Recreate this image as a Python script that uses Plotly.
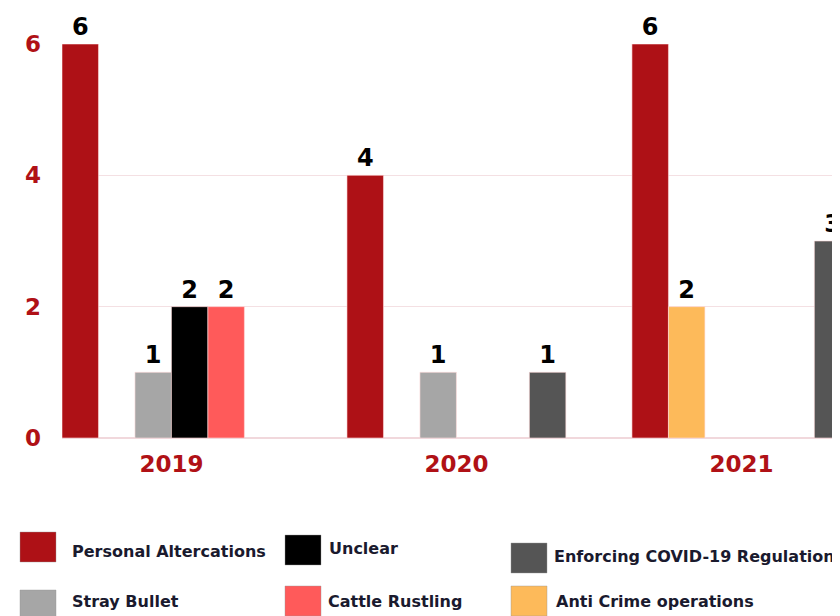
import plotly.graph_objects as go

years = ["2019", "2020", "2021"]
series_names = ["Personal Altercations", "Anti Crime operations", "Stray Bullet",
                "Unclear", "Cattle Rustling", "Enforcing COVID-19 Regulations"]
personal_altercations = [6, 4, 6]
anti_crime = [None, None, 2]
stray_bullet = [1, 1, None]
unclear = [2, None, None]
cattle_rustling = [2, None, None]
covid_enforcement = [None, 1, 3]
series_values = [personal_altercations, anti_crime, stray_bullet,
                 unclear, cattle_rustling, covid_enforcement]
colors = ["#AE1116", "#FDBA5A", "#A6A6A6", "#000000", "#FF5A5A", "#555555"]
y_ticks = [0, 2, 4, 6]

FONT = "DejaVu Sans"
DARKRED = "#B01116"

# page has an 8px body offset; figure is drawn 8px smaller
W, H = 832, 608
L, T, B = 54, 36, 178

fig = go.Figure()
for name, vals, c in zip(series_names, series_values, colors):
    fig.add_trace(go.Bar(
        x=years, y=vals, name=name,
        marker=dict(color=c, line=dict(color="rgba(255,220,220,0.6)", width=1)),
        text=[("" if v is None else str(v)) for v in vals],
        textposition="outside", cliponaxis=False,
        textfont=dict(family=FONT, size=24, color="#000000", weight="bold"),
        showlegend=False,
    ))

fig.update_layout(
    width=W, height=H,
    margin=dict(l=L, r=0, t=T, b=B),
    paper_bgcolor="white", plot_bgcolor="white",
    barmode="group", bargap=0.232, bargroupgap=0,
    xaxis=dict(range=[-0.384, 2.346], showgrid=False, showline=False, zeroline=False,
               tickfont=dict(family=FONT, size=23, color=DARKRED, weight="bold"),
               ticks="", ticklabelstandoff=10),
    yaxis=dict(range=[0, 6], tickvals=y_ticks, showgrid=True,
               gridcolor="#F4E0E3", gridwidth=1, zeroline=True,
               zerolinecolor="#F1D8DC", zerolinewidth=2, showline=False,
               tickfont=dict(family=FONT, size=23, color=DARKRED, weight="bold"),
               ticks="", ticklabelstandoff=20),
    font=dict(family=FONT),
)

PW = W - L
PH = H - T - B
legend_items = [
    ("Personal Altercations", "#AE1116", 20, 532, 70, 551),
    ("Unclear", "#000000", 285, 535, 327, 548),
    ("Enforcing COVID-19 Regulations", "#555555", 511, 543, 552, 556),
    ("Stray Bullet", "#A6A6A6", 20, 590, 70, 601),
    ("Cattle Rustling", "#FF5A5A", 285, 586, 326, 601),
    ("Anti Crime operations", "#FDBA5A", 511, 586, 554, 601),
]
for label, c, sx, sy, tx, ty in legend_items:
    sx, sy, tx, ty = sx - 8, sy - 8, tx - 8, ty - 8
    fig.add_shape(type="rect", xref="paper", yref="paper",
                  x0=(sx - L) / PW, x1=(sx + 36 - L) / PW,
                  y0=(T + PH - (sy + 30)) / PH, y1=(T + PH - sy) / PH,
                  fillcolor=c, line=dict(color="rgba(150,150,150,0.4)", width=1), layer="above")
    fig.add_annotation(xref="paper", yref="paper",
                       x=(tx - L) / PW, y=(T + PH - ty) / PH,
                       text=label, showarrow=False, xanchor="left", yanchor="middle",
                       font=dict(family=FONT, size=16, color="#1A1A2E", weight="bold"))

fig.write_html("out.html")
